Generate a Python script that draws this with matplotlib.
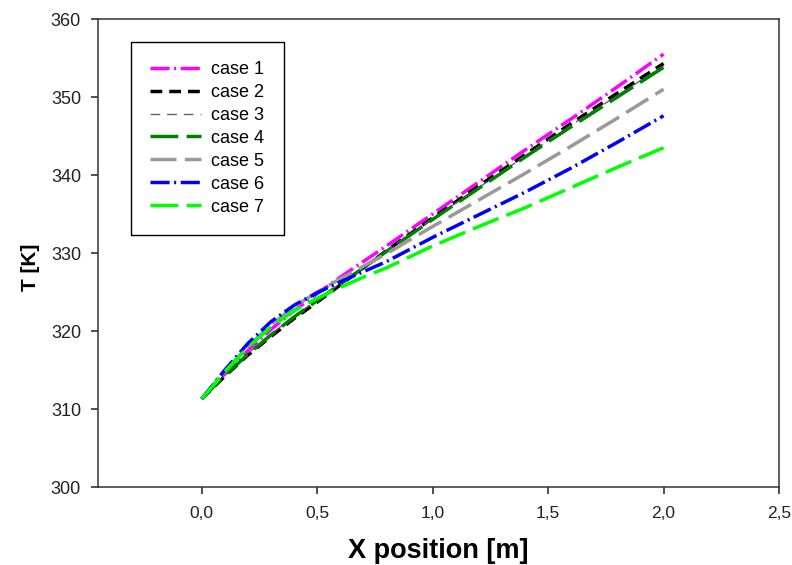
import matplotlib
matplotlib.use("Agg")
import matplotlib.pyplot as plt
import numpy as np

plt.rcParams['font.family'] = ['Liberation Sans', 'DejaVu Sans']

x_pos = [0.0, 0.1, 0.2, 0.3, 0.4, 0.5, 0.6, 0.7, 0.8, 1.0, 1.2, 1.4, 1.6, 1.8, 2.0]

case1 = [311.3, 314.5, 317.5, 320.2, 322.6, 324.8, 326.9, 328.9, 330.9, 335.0, 339.1, 343.2, 347.2, 351.3, 355.5]
case2 = [311.3, 314.2, 316.9, 319.3, 321.6, 323.7, 325.9, 328.1, 330.3, 334.5, 338.6, 342.6, 346.6, 350.5, 354.3]
case3 = [311.3, 314.3, 317.1, 319.6, 321.9, 324.0, 326.1, 328.2, 330.3, 334.4, 338.4, 342.4, 346.4, 350.2, 354.0]
case4 = [311.3, 314.3, 317.0, 319.5, 321.8, 323.9, 326.0, 328.1, 330.2, 334.3, 338.3, 342.3, 346.2, 350.0, 353.8]
case5 = [311.3, 314.8, 318.0, 320.8, 323.1, 325.0, 326.7, 328.3, 329.9, 333.4, 336.8, 340.2, 343.7, 347.3, 351.0]
case6 = [311.3, 315.0, 318.4, 321.2, 323.3, 324.9, 326.3, 327.6, 328.9, 332.0, 334.9, 337.8, 340.9, 344.2, 347.6]
case7 = [311.3, 314.8, 317.9, 320.5, 322.6, 324.2, 325.6, 326.9, 328.1, 330.9, 333.4, 335.8, 338.4, 341.0, 343.5]

labels = ['case 1', 'case 2', 'case 3', 'case 4', 'case 5', 'case 6', 'case 7']
x_ticks = [0.0, 0.5, 1.0, 1.5, 2.0, 2.5]
x_tick_labels = ['0,0', '0,5', '1,0', '1,5', '2,0', '2,5']
y_ticks = [300, 310, 320, 330, 340, 350, 360]

fig = plt.figure(figsize=(7.92, 5.65), dpi=100)
ax = fig.add_axes([0.1234, 0.138, 0.8602, 0.8283])

# стили линий
styles = [
    dict(color='#ff00ff', lw=2.5, dashes=(5.5, 1.3, 0.6, 1.3)),
    dict(color='black', lw=2.5, dashes=(3.4, 2.0)),
    dict(color='#666666', lw=1.0, dashes=(7, 5)),
    dict(color='#008000', lw=2.5, dashes=(8, 2.4)),
    dict(color='#999999', lw=2.5, dashes=(7.5, 2.4)),
    dict(color='#0000ff', lw=2.5, dashes=(5.5, 1.3, 0.6, 1.3)),
    dict(color='#00ff00', lw=2.5, dashes=(8, 2.4)),
]
series = [case1, case2, case3, case4, case5, case6, case7]
for y, lab, st in zip(series, labels, styles):
    ax.plot(x_pos, y, label=lab, **st)

ax.set_xlim(-0.45, 2.5)
ax.set_ylim(300, 360)
ax.set_xticks(x_ticks)
ax.set_xticklabels(x_tick_labels)
ax.set_yticks(y_ticks)
ax.tick_params(direction='out', length=5, width=1.1, labelsize=13, colors='#222222')
ax.tick_params(axis='x', labelsize=12.5, pad=9)
ax.tick_params(axis='y', pad=7)
for sp in ax.spines.values():
    sp.set_linewidth(1.1)
    sp.set_color('#333333')

ax.set_xlabel('X position [m]', fontsize=19.5, fontweight='bold', labelpad=12)
ax.set_ylabel('T [K]', fontsize=15, fontweight='bold')
ax.yaxis.set_label_coords(-0.085, 0.47)

leg = ax.legend(loc='upper left', bbox_to_anchor=(0.049, 0.951), borderaxespad=0,
                fontsize=13, handlelength=2.8, handletextpad=0.6, labelspacing=0.33,
                borderpad=1.05, fancybox=False, framealpha=1)
leg.get_frame().set_edgecolor('black')
leg.get_frame().set_linewidth(1.0)

fig.savefig('out.png', dpi=100)
